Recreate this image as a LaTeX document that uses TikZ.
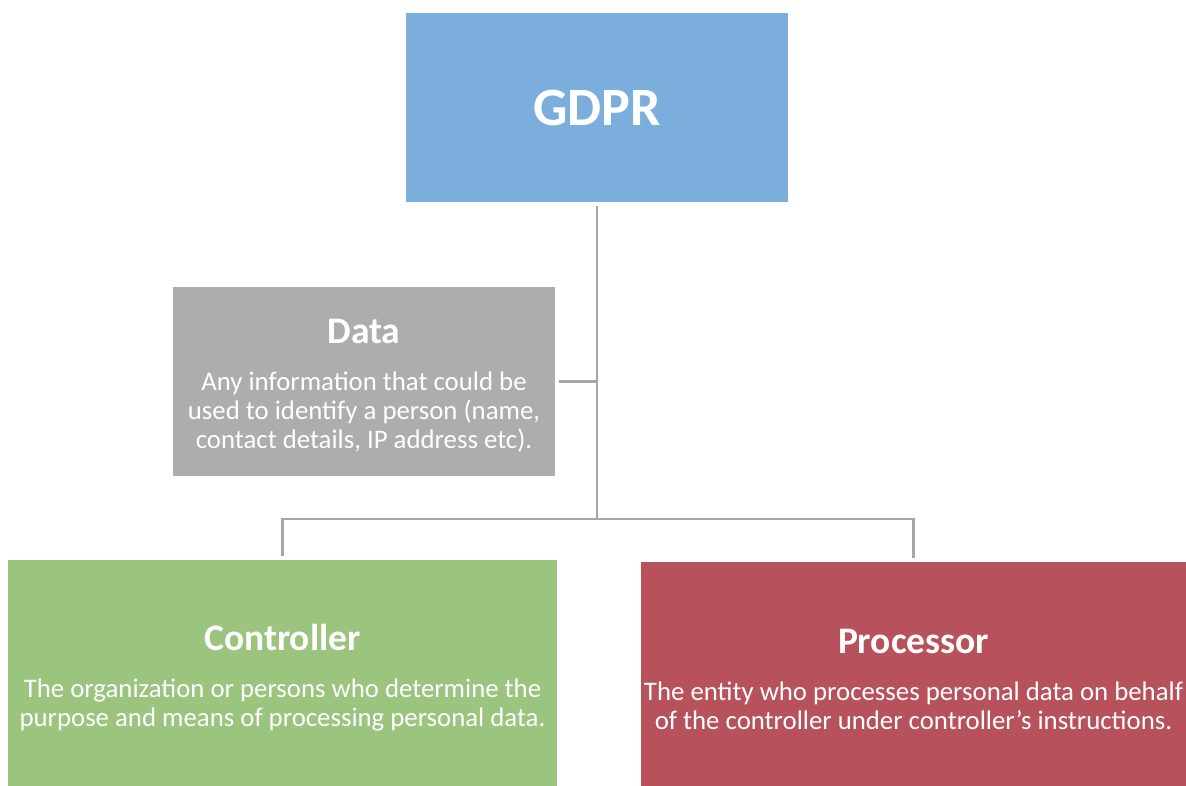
\documentclass[tikz,border=0pt]{standalone}
\usepackage{fontspec}
\setmainfont{Carlito}
\definecolor{gdprblue}{RGB}{123,174,220}
\definecolor{datagray}{RGB}{173,173,173}
\definecolor{ctrlgreen}{RGB}{155,196,127}
\definecolor{procred}{RGB}{183,82,93}
\definecolor{linegray}{RGB}{166,166,166}
\newcommand{\boxbodyfont}{\fontsize{26.8}{29}\selectfont}
\newcommand{\bigtitle}[1]{{\fontsize{54}{60}\selectfont\bfseries #1}}
\newcommand{\boxtitle}[1]{{\fontsize{37.5}{29}\selectfont\bfseries #1}}
\tikzset{
  box/.style={rectangle, inner sep=0pt, text=white, align=center, font=\boxbodyfont},
  conn/.style={draw=linegray, line width=2.6pt},
}
\begin{document}
\begin{tikzpicture}[x=1pt,y=-1pt]
\useasboundingbox (0,0) rectangle (1186,785);
\node[box, fill=gdprblue, minimum width=382, minimum height=189] (gdpr) at (597,107.5) {\bigtitle{GDPR}};
\node[box, fill=datagray, minimum width=382, minimum height=189] (data) at (364,381.5)
  {\rule{0pt}{33pt}\boxtitle{Data}\\[18pt]Any information that could be\\used to identify a person (name,\\contact details, IP address etc).};
\node[box, fill=ctrlgreen, minimum width=549, minimum height=236] (ctrl) at (282.5,678)
  {\boxtitle{Controller}\\[18pt]The organization or persons who determine the\\purpose and means of processing personal data.};
\node[box, fill=procred, minimum width=545, minimum height=234] (proc) at (913.5,679)
  {\boxtitle{Processor}\\[18pt]The entity who processes personal data on behalf\\of the controller under controller’s instructions.};
\coordinate (j) at (597,519);
\draw[conn] ([yshift=-4pt]gdpr.south) -- (gdpr.south |- j);
\draw[conn] ([xshift=4pt]data.east) -- (data.east -| gdpr.south);
\draw[conn] ([yshift=4pt]ctrl.north) |- (j) -| ([yshift=4pt]proc.north);
\end{tikzpicture}
\end{document}
